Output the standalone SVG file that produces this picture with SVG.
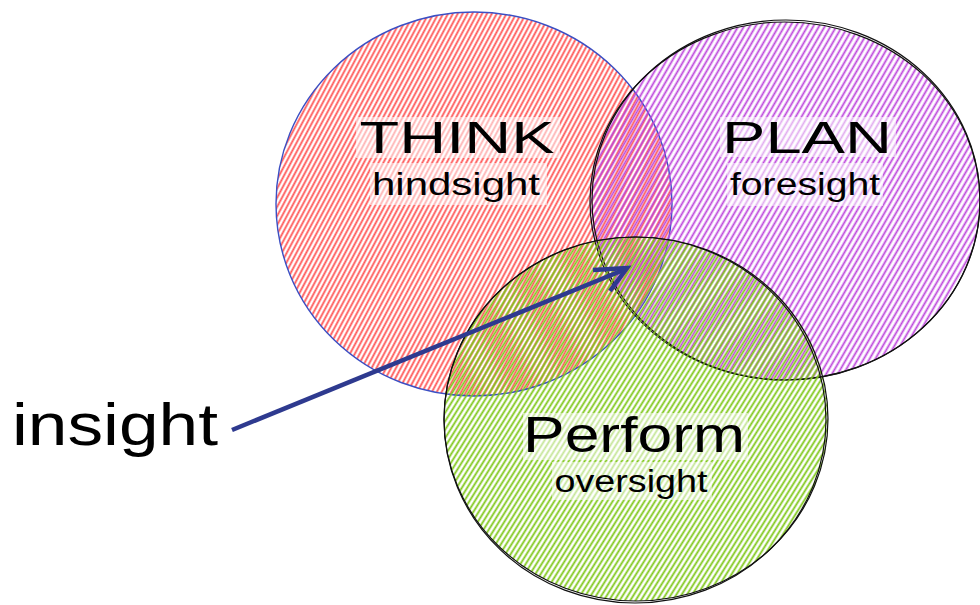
<svg xmlns="http://www.w3.org/2000/svg" width="980" height="605" viewBox="0 0 980 605">
<style>
.lbl{font-family:"Liberation Sans","Noto Sans",sans-serif;fill:#000;text-anchor:middle}
.big{font-size:45px}
.small{font-size:31px}
.bg{fill:#fff;opacity:0.55}
.outline{fill:none;stroke:#111;stroke-width:1.2}
</style>
<defs>
<pattern id="hRed" width="4.3" height="10" patternUnits="userSpaceOnUse" patternTransform="rotate(28)">
<line x1="2.1" y1="0" x2="2.1" y2="10" stroke="#ff5757" stroke-width="1.8"/>
</pattern>
<pattern id="hPur" width="5" height="10" patternUnits="userSpaceOnUse" patternTransform="rotate(30)">
<line x1="2.5" y1="0" x2="2.5" y2="10" stroke="#bd45dc" stroke-width="1.8"/>
</pattern>
<pattern id="hGrn" width="4.5" height="10" patternUnits="userSpaceOnUse" patternTransform="rotate(32)">
<line x1="2.2" y1="0" x2="2.2" y2="10" stroke="#7fc71a" stroke-width="1.8"/>
</pattern>
</defs>

<g id="think">
<ellipse cx="474" cy="204" rx="198" ry="192" fill="url(#hRed)"/>
<ellipse cx="474" cy="204" rx="198" ry="192" fill="none" stroke="#3b4fc4" stroke-width="1.4"/>
</g>
<g id="plan">
<ellipse cx="785" cy="201" rx="195" ry="179" fill="url(#hPur)"/>
<ellipse cx="785" cy="201" rx="195" ry="179" class="outline"/>
<ellipse cx="786" cy="200" rx="194" ry="180" class="outline" stroke-width="0.8"/>
</g>
<g id="perform">
<ellipse cx="636" cy="419" rx="192" ry="182" fill="url(#hGrn)"/>
<ellipse cx="636" cy="419" rx="192" ry="182" class="outline"/>
<ellipse cx="635" cy="420" rx="191" ry="183" class="outline" stroke-width="0.8"/>
</g>

<g id="think-label">
<rect class="bg" x="356" y="117" width="204" height="41"/>
<rect class="bg" x="370" y="163" width="177" height="42"/>
<text class="lbl big" x="457" y="153" textLength="195" lengthAdjust="spacingAndGlyphs">THINK</text>
<text class="lbl small" x="456" y="195" textLength="168" lengthAdjust="spacingAndGlyphs">hindsight</text>
</g>
<g id="plan-label">
<rect class="bg" x="720" y="117" width="176" height="40"/>
<rect class="bg" x="727" y="163" width="156" height="43"/>
<text class="lbl big" x="807" y="153" textLength="170" lengthAdjust="spacingAndGlyphs">PLAN</text>
<text class="lbl small" x="805" y="195" textLength="150" lengthAdjust="spacingAndGlyphs">foresight</text>
</g>
<g id="perform-label">
<rect class="bg" x="523" y="413" width="225" height="47"/>
<rect class="bg" x="552" y="462" width="160" height="38"/>
<text class="lbl" font-size="50" x="634" y="452" textLength="222" lengthAdjust="spacingAndGlyphs">Perform</text>
<text class="lbl small" x="631" y="492" textLength="153" lengthAdjust="spacingAndGlyphs">oversight</text>
</g>
<g id="insight-label">
<text class="lbl" font-size="60" x="115" y="445" textLength="206" lengthAdjust="spacingAndGlyphs">insight</text>
</g>

<g id="connectors" fill="none" stroke="#2e3a8f" stroke-width="4.5" stroke-linecap="butt" stroke-linejoin="miter">
<line x1="232" y1="430" x2="626" y2="269"/>
<polyline points="593,270 627,268 610,291"/>
</g>
</svg>
